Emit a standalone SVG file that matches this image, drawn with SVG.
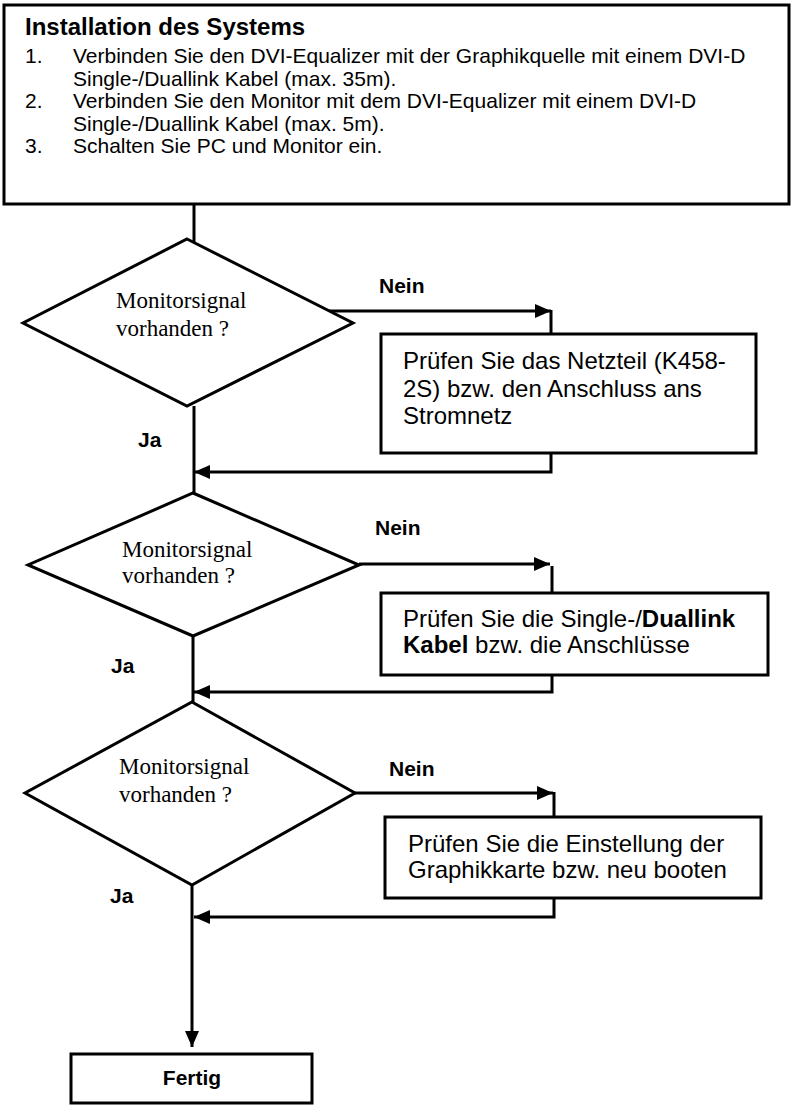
<svg xmlns="http://www.w3.org/2000/svg" width="793" height="1106" viewBox="0 0 793 1106">
<style>
.box{fill:#fff;stroke:#000;stroke-width:3}
.dia{fill:#fff;stroke:#000;stroke-width:3;stroke-linejoin:miter}
.ln{fill:none;stroke:#000;stroke-width:3}
.t{font-family:"Liberation Sans",Arial,sans-serif;fill:#000}
.s{font-family:"Liberation Serif","Times New Roman",serif;font-size:23px;fill:#000}
.lab{font-family:"Liberation Sans",Arial,sans-serif;font-size:21px;font-weight:bold;fill:#000}
.b{font-weight:bold}
</style>
<defs>
<marker id="ah" markerUnits="userSpaceOnUse" markerWidth="17" markerHeight="15" refX="16" refY="7" orient="auto">
<path d="M0,0 L16,7 L0,14 z" fill="#000"/>
</marker>
</defs>

<g id="connectors">
<path class="ln" d="M194,204 V243"/>
<path class="ln" d="M327,311 H551" marker-end="url(#ah)"/>
<path class="ln" d="M551,310 V334"/>
<path class="ln" d="M551,453 V472 H194" marker-end="url(#ah)"/>
<path class="ln" d="M194,406 V494"/>
<path class="ln" d="M359,564 H550" marker-end="url(#ah)"/>
<path class="ln" d="M552,566 V593"/>
<path class="ln" d="M552,675 V692 H194" marker-end="url(#ah)"/>
<path class="ln" d="M193,636 V703"/>
<path class="ln" d="M355,793 H553" marker-end="url(#ah)"/>
<path class="ln" d="M554,792 V817"/>
<path class="ln" d="M554,898 V917 H194" marker-end="url(#ah)"/>
<path class="ln" d="M192,885 V1047" marker-end="url(#ah)"/>
<text class="lab" x="379" y="293">Nein</text>
<text class="lab" x="138" y="447">Ja</text>
<text class="lab" x="375" y="535">Nein</text>
<text class="lab" x="111" y="673">Ja</text>
<text class="lab" x="389" y="776">Nein</text>
<text class="lab" x="110" y="903">Ja</text>
</g>

<g id="install">
<rect class="box" x="4" y="5" width="785" height="199"/>
<text class="t b" x="25" y="35" font-size="24">Installation des Systems</text>
<text class="t" font-size="21">
<tspan x="25" y="63">1.</tspan><tspan x="73" y="63">Verbinden Sie den DVI-Equalizer mit der Graphikquelle mit einem DVI-D</tspan>
<tspan x="73" y="86">Single-/Duallink Kabel (max. 35m).</tspan>
<tspan x="25" y="108">2.</tspan><tspan x="73" y="108">Verbinden Sie den Monitor mit dem DVI-Equalizer mit einem DVI-D</tspan>
<tspan x="73" y="131">Single-/Duallink Kabel (max. 5m).</tspan>
<tspan x="25" y="153">3.</tspan><tspan x="73" y="153">Schalten Sie PC und Monitor ein.</tspan>
</text>
</g>

<g id="decision1">
<polygon class="dia" points="187,239 353,323 187,406 23,323"/>
<text class="s" x="116" y="308">Monitorsignal</text>
<text class="s" x="116" y="336">vorhanden ?</text>
</g>

<g id="check1">
<rect class="box" x="381" y="334" width="375" height="119"/>
<text class="t" font-size="24">
<tspan x="403" y="369">Prüfen Sie das Netzteil (K458-</tspan>
<tspan x="403" y="397">2S) bzw. den Anschluss ans</tspan>
<tspan x="403" y="424">Stromnetz</tspan>
</text>
</g>

<g id="decision2">
<polygon class="dia" points="193,493 359,565 193,636 28,565"/>
<text class="s" x="122" y="557">Monitorsignal</text>
<text class="s" x="122" y="583">vorhanden ?</text>
</g>

<g id="check2">
<rect class="box" x="381" y="593" width="387" height="82"/>
<text class="t" font-size="24">
<tspan x="403" y="627">Prüfen Sie die Single-/<tspan class="b">Duallink</tspan></tspan>
<tspan x="403" y="653"><tspan class="b">Kabel</tspan> bzw. die Anschlüsse</tspan>
</text>
</g>

<g id="decision3">
<polygon class="dia" points="192,702 355,793 192,885 25,793"/>
<text class="s" x="119" y="774">Monitorsignal</text>
<text class="s" x="119" y="802">vorhanden ?</text>
</g>

<g id="check3">
<rect class="box" x="385" y="817" width="376" height="81"/>
<text class="t" font-size="24">
<tspan x="408" y="852">Prüfen Sie die Einstellung der</tspan>
<tspan x="408" y="878">Graphikkarte bzw. neu booten</tspan>
</text>
</g>

<g id="done">
<rect class="box" x="71" y="1054" width="241" height="49"/>
<text class="lab" x="192" y="1085" text-anchor="middle">Fertig</text>
</g>
</svg>
